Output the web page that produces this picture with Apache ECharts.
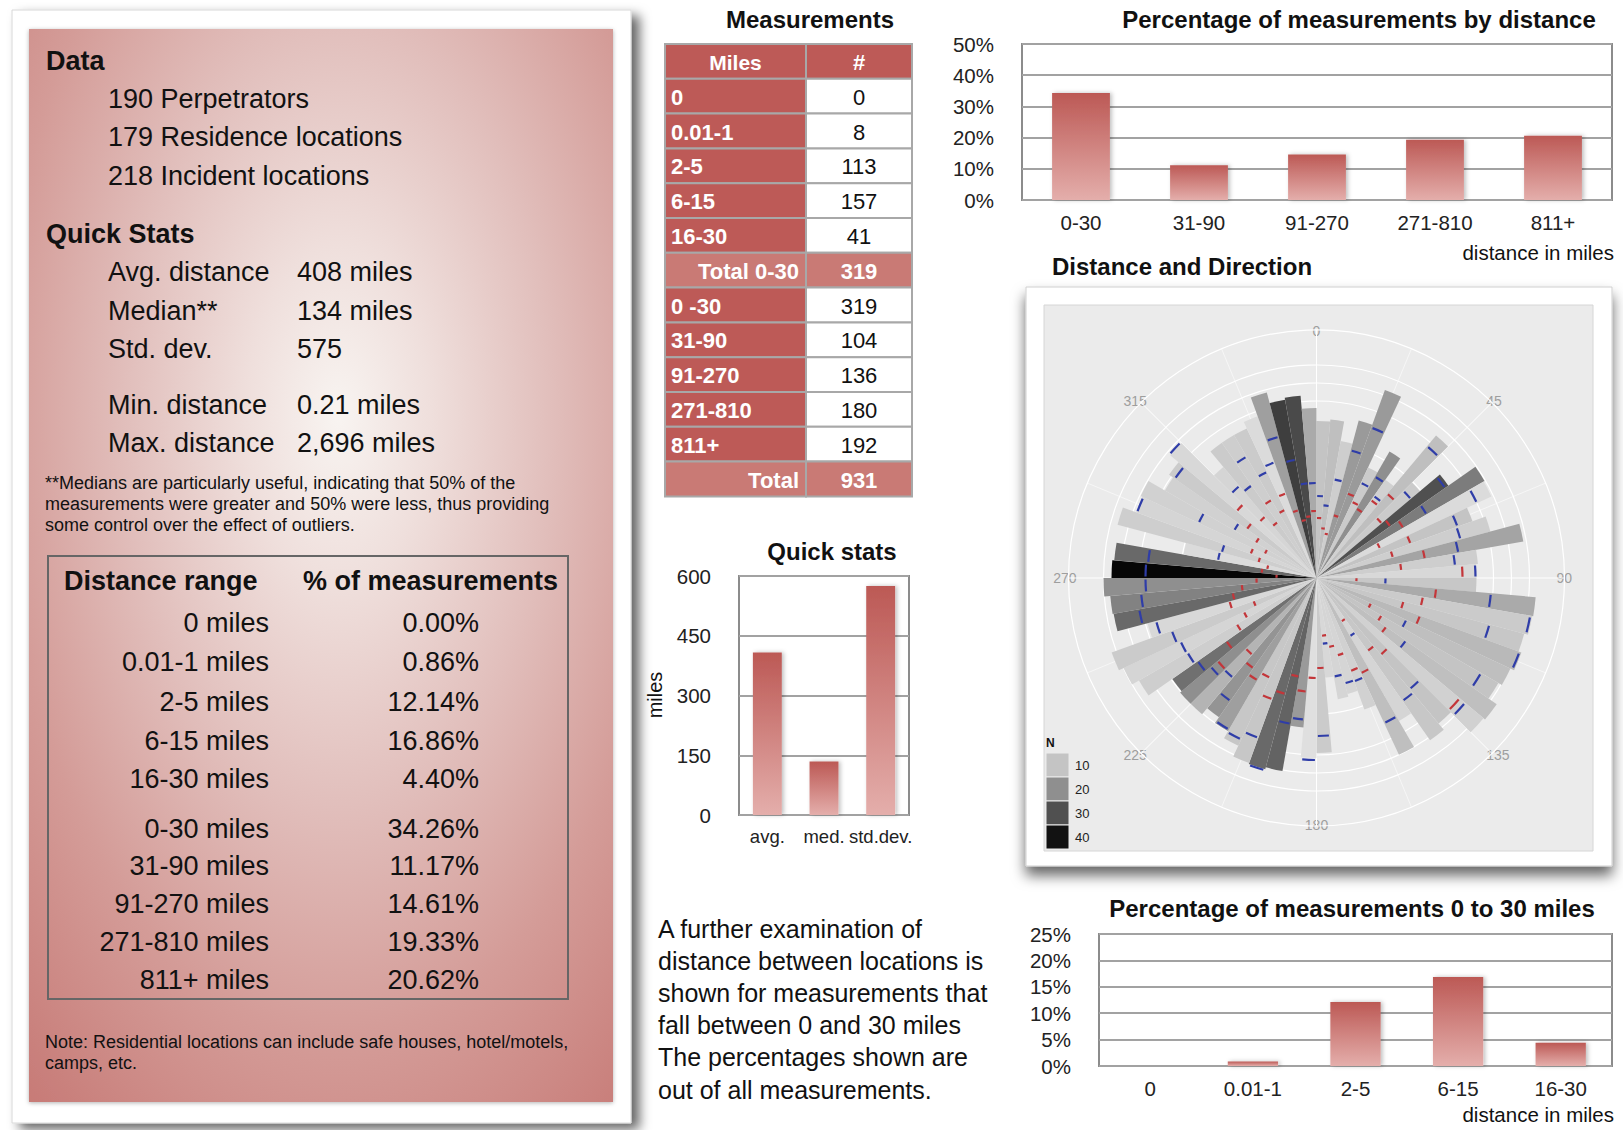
<!DOCTYPE html>
<html>
<head>
<meta charset="utf-8">
<title>Distance between residence and incident locations</title>
<script src="https://cdn.jsdelivr.net/npm/echarts@6/dist/echarts.min.js"></script>
<style>
  html, body { margin: 0; padding: 0; background: #fff; }
  #chart { width: 1623px; height: 1130px; }
</style>
</head>
<body>
<div id="chart"></div>
<script>
// ---- data ----
const dataFacts = ['190 Perpetrators', '179 Residence locations', '218 Incident locations'];
const statNames = ['Avg. distance', 'Median**', 'Std. dev.', 'Min. distance', 'Max. distance'];
const statValues = ['408 miles', '134 miles', '575', '0.21 miles', '2,696 miles'];

const rangeNames = ['0 miles', '0.01-1 miles', '2-5 miles', '6-15 miles', '16-30 miles',
  '0-30 miles', '31-90 miles', '91-270 miles', '271-810 miles', '811+ miles'];
const rangePercents = ['0.00%', '0.86%', '12.14%', '16.86%', '4.40%',
  '34.26%', '11.17%', '14.61%', '19.33%', '20.62%'];

const measureMiles = ['0', '0.01-1', '2-5', '6-15', '16-30', 'Total 0-30',
  '0 -30', '31-90', '91-270', '271-810', '811+', 'Total'];
const measureCounts = [0, 8, 113, 157, 41, 319, 319, 104, 136, 180, 192, 931];

const distCats = ['0-30', '31-90', '91-270', '271-810', '811+'];
const distPct = [34.26, 11.17, 14.61, 19.33, 20.62];

const nearCats = ['0', '0.01-1', '2-5', '6-15', '16-30'];
const nearPct = [0, 0.86, 12.14, 16.86, 4.40];

const statCats = ['avg.', 'med.', 'std.dev.'];
const statMiles = [408, 134, 575];

// distance and direction: 72 bins of 5 degrees, clockwise from north
const roseDirections = ['0', '5', '10', '15', '20', '25', '30', '35', '40', '45',
  '50', '55', '60', '65', '70', '75', '80', '85', '90', '95',
  '100', '105', '110', '115', '120', '125', '130', '135', '140', '145',
  '150', '155', '160', '165', '170', '175', '180', '185', '190', '195',
  '200', '205', '210', '215', '220', '225', '230', '235', '240', '245',
  '250', '255', '260', '265', '270', '275', '280', '285', '290', '295',
  '300', '305', '310', '315', '320', '325', '330', '335', '340', '345',
  '350', '355'];
const roseLength = [157, 159, 139, 163, 200, 122, 146, 120, 186, 135,
  161, 194, 193, 166, 180, 210, 162, 160, 160, 220,
  219, 215, 218, 214, 210, 220, 218, 190, 198, 165,
  195, 140, 120, 123, 100, 175, 180, 150, 196, 198,
  197, 185, 177, 170, 178, 178, 176, 205, 213, 218,
  175, 206, 207, 213, 205, 203, 135, 206, 192, 194,
  175, 180, 191, 145, 165, 165, 165, 172, 192, 181,
  183, 170];
const roseCount = [10, 11, 7, 18, 18, 8, 20, 6, 11, 8,
  30, 23, 3, 10, 7, 16, 7, 4, 9, 15,
  8, 9, 12, 11, 10, 11, 6, 10, 9, 5,
  11, 6, 5, 5, 4, 8, 2, 18, 27, 26,
  9, 9, 17, 19, 13, 20, 25, 7, 5, 8,
  4, 26, 22, 20, 42, 26, 3, 7, 5, 6,
  6, 8, 4, 5, 8, 7, 8, 3, 17, 33,
  31, 15];
const roseBlue = [82, 73, 100, 132, 160, 105, 117, 100, 172, 123,
  157, 127, 177, 150, 149, 144, 139, 159, 69, 175,
  217, 179, 216, 99, 190, 109, 194, 145, 150, 67,
  160, 110, 109, 100, 66, 158, 182, 142, 148, 199,
  170, 178, 175, 150, 130, 138, 145, 149, 150, 154,
  166, 180, 176, 171, 171, 169, 100, 98, 191, 130,
  95, 173, 192, 120, 113, 140, 117, 123, 146, 120,
  95, 95];
const roseRed = [60, 50, 45, 65, 90, 84, 80, 95, 110, 85,
  90, 100, 70, 100, 79, 110, 85, 146, 40, 120,
  108, 90, 110, 60, 75, 85, 187, 100, 89, 50,
  105, 99, 80, 70, 58, 90, 100, 114, 100, 120,
  129, 110, 118, 110, 100, 129, 110, 92, 80, 67,
  90, 85, 75, 60, 40, 55, 50, 60, 70, 57,
  70, 85, 104, 80, 68, 90, 75, 90, 70, 59,
  62, 67];
const roseGrid = [136, 177, 195, 213];
const legendCounts = [10, 20, 30, 40];

// ---- helpers ----
const FONT = '"Liberation Sans", Arial, Helvetica, sans-serif';
const grayStops = [[1, 226], [10, 196], [20, 143], [30, 80], [42, 6]];
function grayFor(n) {
  let g = grayStops[grayStops.length - 1][1];
  for (let i = 0; i < grayStops.length - 1; i++) {
    const a = grayStops[i], b = grayStops[i + 1];
    if (n <= b[0]) {
      const t = Math.max(0, (n - a[0]) / (b[0] - a[0]));
      g = Math.round(a[1] + (b[1] - a[1]) * t);
      break;
    }
  }
  return 'rgb(' + g + ',' + g + ',' + g + ')';
}
function txt(x, y, s, size, o) {
  o = o || {};
  return {
    type: 'text', x: x, y: y, z: 50, silent: true, rotation: o.rotation || 0,
    style: {
      text: s, font: (o.bold ? 'bold ' : '') + size + 'px ' + FONT,
      fill: o.color || '#111', align: o.align || 'left', verticalAlign: 'middle'
    }
  };
}
const barFill = {
  type: 'linear', x: 0, y: 0, x2: 0, y2: 1,
  colorStops: [{ offset: 0, color: '#bc5955' }, { offset: 1, color: '#e4aeab' }]
};

const chart = echarts.init(document.getElementById('chart'), null, { renderer: 'svg' });

// ---- static panels, text and tables ----
const g = [];
// left card
g.push({ type: 'rect', z: -10, shape: { x: 12, y: 10, width: 619, height: 1113 },
  style: { fill: '#fff', stroke: '#d8d8d8', lineWidth: 1, shadowBlur: 12, shadowOffsetX: 8, shadowOffsetY: 6, shadowColor: 'rgba(0,0,0,0.6)' } });
g.push({ type: 'rect', z: -9, shape: { x: 29, y: 29, width: 584, height: 1073 },
  style: {
    fill: new echarts.graphic.RadialGradient(0.53, 0.36, 1.05, [
      { offset: 0, color: '#f8f4f1' }, { offset: 0.15, color: '#efdfdc' },
      { offset: 0.35, color: '#e1bebb' }, { offset: 0.55, color: '#d49c98' },
      { offset: 0.75, color: '#c9807c' }, { offset: 1, color: '#bf605d' }]),
    shadowBlur: 4, shadowOffsetY: 1, shadowColor: 'rgba(0,0,0,0.3)'
  } });

g.push(txt(46, 61, 'Data', 27, { bold: true }));
dataFacts.forEach((s, i) => g.push(txt(108, 99 + i * 38.3, s, 27)));
g.push(txt(46, 234, 'Quick Stats', 27, { bold: true }));
const statY = [272, 310.5, 349, 405, 443];
statNames.forEach((s, i) => {
  g.push(txt(108, statY[i], s, 27));
  g.push(txt(297, statY[i], statValues[i], 27));
});
['**Medians are particularly useful, indicating that 50% of the',
 'measurements were greater and 50% were less, thus providing',
 'some control over the effect of outliers.'].forEach((s, i) => g.push(txt(45, 483 + i * 20.8, s, 18)));

g.push({ type: 'rect', z: 5, shape: { x: 48, y: 556, width: 520, height: 443 },
  style: { fill: 'none', stroke: '#666', lineWidth: 2 } });
g.push(txt(64, 581, 'Distance range', 27, { bold: true }));
g.push(txt(303, 581, '% of measurements', 27, { bold: true }));
const rowY = [623, 662.4, 701.7, 741, 779.4, 829, 866.3, 903.6, 941.9, 980.1];
rangeNames.forEach((s, i) => {
  g.push(txt(269, rowY[i], s, 27, { align: 'right' }));
  g.push(txt(479, rowY[i], rangePercents[i], 27, { align: 'right' }));
});
g.push(txt(45, 1042, 'Note: Residential locations can include safe houses, hotel/motels,', 18));
g.push(txt(45, 1063, 'camps, etc.', 18));

// measurements table
g.push(txt(810, 19, 'Measurements', 24, { bold: true, align: 'center' }));
const tX = [665, 806, 912], tTop = 44, tRow = 34.8;
const tableRows = [['Miles', '#']].concat(measureMiles.map((m, i) => [m, String(measureCounts[i])]));
tableRows.forEach((row, i) => {
  const y = tTop + i * tRow;
  const head = i === 0, total = row[0].indexOf('Total') === 0;
  const labFill = total ? '#c97a75' : '#bd5a57';
  g.push({ type: 'rect', z: 5, shape: { x: tX[0], y: y, width: tX[1] - tX[0], height: tRow },
    style: { fill: labFill, stroke: '#a8a8a8', lineWidth: 2 } });
  g.push({ type: 'rect', z: 5, shape: { x: tX[1], y: y, width: tX[2] - tX[1], height: tRow },
    style: { fill: head ? '#bd5a57' : (total ? '#c97a75' : '#fff'), stroke: '#a8a8a8', lineWidth: 2 } });
  const cy = y + tRow / 2 + 1;
  if (head) g.push(txt((tX[0] + tX[1]) / 2, cy, row[0], 21, { bold: true, color: '#fff', align: 'center' }));
  else if (total) g.push(txt(tX[1] - 7, cy, row[0], 22, { bold: true, color: '#fff', align: 'right' }));
  else g.push(txt(tX[0] + 6, cy, row[0], 22, { bold: true, color: '#fff' }));
  g.push(txt((tX[1] + tX[2]) / 2, cy, row[1], 22,
    { bold: head || total, color: (head || total) ? '#fff' : '#111', align: 'center' }));
});

// chart titles and notes
g.push(txt(1359, 19, 'Percentage of measurements by distance', 24, { bold: true, align: 'center' }));
g.push(txt(1614, 252, 'distance in miles', 20.5, { align: 'right' }));
g.push(txt(1052, 266, 'Distance and Direction', 24, { bold: true }));
g.push(txt(832, 551, 'Quick stats', 24, { bold: true, align: 'center' }));
g.push(txt(655, 695, 'miles', 20, { align: 'center', rotation: Math.PI / 2 }));
g.push(txt(1352, 908, 'Percentage of measurements 0 to 30 miles', 24, { bold: true, align: 'center' }));
g.push(txt(1614, 1114, 'distance in miles', 20.5, { align: 'right' }));
['A further examination of', 'distance between locations is', 'shown for measurements that',
 'fall between 0 and 30 miles', 'The percentages shown are', 'out of all measurements.']
  .forEach((s, i) => g.push(txt(658, 929 + i * 32.1, s, 25)));

// polar card + panel
g.push({ type: 'rect', z: -10, shape: { x: 1026, y: 287, width: 586, height: 579 },
  style: { fill: '#fff', stroke: '#cfcfcf', lineWidth: 1, shadowBlur: 14, shadowOffsetX: 0, shadowOffsetY: 9, shadowColor: 'rgba(0,0,0,0.6)' } });
g.push({ type: 'rect', z: -9, shape: { x: 1044, y: 305, width: 549, height: 546 },
  style: { fill: '#ebebeb', stroke: '#d6d6d6', lineWidth: 1 } });
// N legend
g.push(txt(1046, 743, 'N', 12, { bold: true }));
legendCounts.forEach((n, i) => {
  g.push({ type: 'rect', z: 30, shape: { x: 1046, y: 753 + i * 24, width: 23, height: 24 },
    style: { fill: grayFor(n), stroke: '#ebebeb', lineWidth: 1 } });
  g.push(txt(1075, 765 + i * 24, String(n), 13, { color: '#222' }));
});

// ---- options ----
const axisFont = { fontSize: 20.5, color: '#222', fontFamily: FONT };
function catAxis(idx, data, margin, size) {
  return { gridIndex: idx, type: 'category', data: data,
    axisLine: { show: false }, axisTick: { show: false },
    axisLabel: Object.assign({ margin: margin, interval: 0 }, axisFont, size ? { fontSize: size } : {}) };
}
function valAxis(idx, max, step, fmt) {
  return { gridIndex: idx, type: 'value', min: 0, max: max, interval: step,
    axisLine: { show: false }, axisTick: { show: false },
    axisLabel: Object.assign({ margin: 28, formatter: fmt }, axisFont),
    splitLine: { lineStyle: { color: '#a2a2a2', width: 2 } } };
}
function barSeries(idx, data, width) {
  return { type: 'bar', xAxisIndex: idx, yAxisIndex: idx, data: data, barWidth: width,
    itemStyle: { color: barFill, shadowBlur: 4, shadowOffsetX: 2, shadowColor: 'rgba(0,0,0,0.25)' } };
}
const gridBase = { show: true, backgroundColor: '#fff', borderColor: '#8c8c8c', borderWidth: 2,
  containLabel: false, outerBoundsMode: 'none' };

function markItem(color) {
  return function (params, api) {
    const cs = params.coordSys;
    const p = api.coord([api.value(0), api.value(1)]);
    const dx = p[0] - cs.cx, dy = p[1] - cs.cy;
    const rad = Math.sqrt(dx * dx + dy * dy);
    const ang = Math.atan2(dy, dx);
    const half = Math.PI / roseDirections.length * 0.8;
    return { type: 'sector',
      shape: { cx: cs.cx, cy: cs.cy, r0: rad - 1.1, r: rad + 1.1, startAngle: ang - half, endAngle: ang + half, clockwise: true },
      style: { fill: color } };
  };
}

chart.setOption({
  animation: false,
  graphic: { elements: g },
  grid: [
    Object.assign({ left: 1022, top: 44, width: 590, height: 156 }, gridBase),
    Object.assign({ left: 739, top: 576, width: 170, height: 239 }, gridBase),
    Object.assign({ left: 1099, top: 934, width: 513, height: 132 }, gridBase)
  ],
  xAxis: [catAxis(0, distCats, 12), catAxis(1, statCats, 12, 18.5), catAxis(2, nearCats, 12)],
  yAxis: [valAxis(0, 50, 10, '{value}%'), valAxis(1, 600, 150, '{value}'), valAxis(2, 25, 5, '{value}%')],
  polar: [
    { center: [1316.5, 578], radius: 248 },
    { center: [1316.5, 578], radius: 248 }
  ],
  angleAxis: [
    { polarIndex: 0, type: 'value', min: 0, max: 360, interval: 22.5, startAngle: 90, clockwise: true,
      axisLine: { show: true, lineStyle: { color: '#fff', width: 1.2 } }, axisTick: { show: false },
      splitLine: { show: true, lineStyle: { color: ['#ffffff', '#f6f6f6'], width: 1 } },
      axisLabel: { margin: -8, color: '#9e9e9e', fontSize: 14, fontFamily: FONT,
        formatter: v => (v % 45 === 0 && v < 360) ? String(v) : '' } },
    { polarIndex: 1, type: 'category', data: roseDirections, startAngle: 90, clockwise: true,
      axisLine: { show: false }, axisTick: { show: false }, axisLabel: { show: false }, splitLine: { show: false } }
  ],
  radiusAxis: [
    { polarIndex: 0, type: 'value', min: 0, max: 248,
      axisLine: { show: false }, axisTick: { show: false }, axisLabel: { show: false }, splitLine: { show: false } },
    { polarIndex: 1, type: 'value', min: 0, max: 248,
      axisLine: { show: false }, axisTick: { show: false }, axisLabel: { show: false }, splitLine: { show: false } }
  ],
  series: [
    barSeries(0, distPct, '49%'),
    barSeries(1, statMiles, '51%'),
    barSeries(2, nearPct, '49%'),
    { type: 'custom', coordinateSystem: 'polar', polarIndex: 0, z: 1, silent: true,
      data: roseGrid.map(r => [r, 0]),
      renderItem: function (params, api) {
        const cs = params.coordSys;
        const p = api.coord([api.value(0), 0]);
        const rad = Math.sqrt((p[0] - cs.cx) * (p[0] - cs.cx) + (p[1] - cs.cy) * (p[1] - cs.cy));
        return { type: 'circle', shape: { cx: cs.cx, cy: cs.cy, r: rad },
          style: { fill: 'none', stroke: '#ffffff', lineWidth: 1.2 } };
      } },
    { type: 'bar', coordinateSystem: 'polar', polarIndex: 1, z: 3, barCategoryGap: '0%', silent: true,
      data: roseLength.map((v, i) => ({ value: v, itemStyle: { color: grayFor(roseCount[i]) } })) },
    { type: 'custom', coordinateSystem: 'polar', polarIndex: 1, z: 4, silent: true,
      data: roseRed.map((v, i) => [v, i]), renderItem: markItem('#c3363a') },
    { type: 'custom', coordinateSystem: 'polar', polarIndex: 1, z: 5, silent: true,
      data: roseBlue.map((v, i) => [v, i]), renderItem: markItem('#2f3da8') }
  ]
});
</script>
</body>
</html>
